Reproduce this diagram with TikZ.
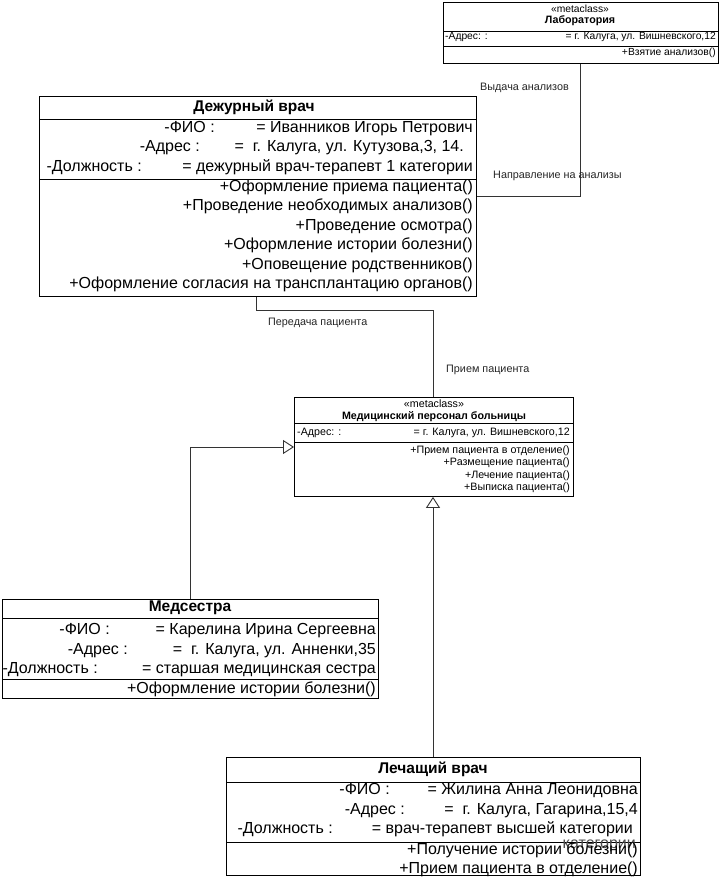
\documentclass[tikz,border=0pt]{standalone}
\usepackage{fontspec}
\setmainfont{Liberation Sans}
\usetikzlibrary{arrows.meta}
\tikzset{
  box/.style={draw=black, line width=0.9pt, inner sep=0pt, anchor=north west},
  sep/.style={draw=black, line width=0.9pt},
  conn/.style={draw=black!80, line width=0.9pt},
  gen/.style={conn, -{Triangle[open,length=11pt,width=14pt,line width=0.9pt]}},
  big/.style={inner sep=0pt, font=\fontsize{16}{18}\selectfont},
  bigb/.style={inner sep=0pt, font=\fontsize{15.5}{18}\selectfont\bfseries},
  sm/.style={inner sep=0pt, font=\fontsize{10.7}{12}\selectfont},
  lsm/.style={inner sep=0pt, font=\fontsize{10.3}{12}\selectfont},
  smb/.style={inner sep=0pt, font=\fontsize{10.7}{12}\selectfont\bfseries},
  lbl/.style={inner sep=0pt, font=\fontsize{10.8}{12}\selectfont, text=black!85},
}
\begin{document}
\begin{tikzpicture}[x=1pt,y=-1pt]
\useasboundingbox[fill=white] (0,0) rectangle (719,882);

% ---------- Laboratory ----------
\node[box, minimum width=275pt, minimum height=61pt] (lab) at (443,2) {};
\draw[sep] (lab.west |- 0,31) -- (lab.east |- 0,31);
\draw[sep] (lab.west |- 0,46) -- (lab.east |- 0,46);
\node[lsm] (labst) at (580,9) {«metaclass»};
\node[smb] (labt) at (580,21) {Лаборатория};
\node[lsm, anchor=mid west] (laba1) at (445,37) {-Адрес: :};
\node[lsm, anchor=mid east] (laba2) at (716,37) {= г. Калуга, ул. Вишневского,12};
\node[lsm, anchor=mid east] (labo1) at (716,53) {+Взятие анализов()};

% ---------- Дежурный врач ----------
\node[box, minimum width=437pt, minimum height=200pt] (dv) at (39,96) {};
\draw[sep] (dv.west |- 0,119) -- (dv.east |- 0,119);
\draw[sep] (dv.west |- 0,179) -- (dv.east |- 0,179);
\node[bigb] (dvt) at (254,107) {Дежурный врач};
\node[big, anchor=mid east] (dva1) at (215,130) {-ФИО :};
\node[big, anchor=mid east] (dva1v) at (473,130) {= Иванников Игорь Петрович};
\node[big, anchor=mid east] (dva2) at (200,149) {-Адрес :};
\node[big, anchor=mid east] (dva2v) at (464,149) {=\ \ г. Калуга, ул. Кутузова,3, 14.};
\node[big, anchor=mid east] (dva3) at (142,169) {-Должность :};
\node[big, anchor=mid east] (dva3v) at (473,169) {= дежурный врач-терапевт 1 категории};
\node[big, anchor=mid east] (dvo1) at (473,189) {+Оформление приема пациента()};
\node[big, anchor=mid east] (dvo2) at (473,208) {+Проведение необходимых анализов()};
\node[big, anchor=mid east] (dvo3) at (473,228) {+Проведение осмотра()};
\node[big, anchor=mid east] (dvo4) at (473,247) {+Оформление истории болезни()};
\node[big, anchor=mid east] (dvo5) at (473,267) {+Оповещение родственников()};
\node[big, anchor=mid east] (dvo6) at (473,286) {+Оформление согласия на трансплантацию органов()};

% ---------- Медицинский персонал больницы ----------
\node[box, minimum width=279pt, minimum height=99pt] (med) at (294,397) {};
\draw[sep] (med.west |- 0,423) -- (med.east |- 0,423);
\draw[sep] (med.west |- 0,442) -- (med.east |- 0,442);
\node[sm] (medst) at (434,404) {«metaclass»};
\node[smb] (medt) at (434,417) {Медицинский персонал больницы};
\node[sm, anchor=mid west] (meda1) at (297,433) {-Адрес: :};
\node[sm, anchor=mid east] (meda1v) at (570,433) {= г. Калуга, ул. Вишневского,12};
\node[sm, anchor=mid east] (medo1) at (570,451) {+Прием пациента в отделение()};
\node[sm, anchor=mid east] (medo2) at (570,463) {+Размещение пациента()};
\node[sm, anchor=mid east] (medo3) at (570,476) {+Лечение пациента()};
\node[sm, anchor=mid east] (medo4) at (570,488) {+Выписка пациента()};

% ---------- Медсестра ----------
\node[box, minimum width=376pt, minimum height=99pt] (ms) at (2,599) {};
\draw[sep] (ms.west |- 0,618) -- (ms.east |- 0,618);
\draw[sep] (ms.west |- 0,679) -- (ms.east |- 0,679);
\node[bigb] (mst) at (190,608) {Медсестра};
\node[big, anchor=mid east] (msa1) at (110,632) {-ФИО :};
\node[big, anchor=mid east] (msa1v) at (376,632) {= Карелина Ирина Сергеевна};
\node[big, anchor=mid east] (msa2) at (128,652) {-Адрес :};
\node[big, anchor=mid east] (msa2v) at (376,652) {=\ \ г. Калуга, ул. Анненки,35};
\node[big, anchor=mid east] (msa3) at (98,671) {-Должность :};
\node[big, anchor=mid east] (msa3v) at (376,671) {= старшая медицинская сестра};
\node[big, anchor=mid east] (mso1) at (376,691) {+Оформление истории болезни()};

% ---------- Лечащий врач ----------
\node[box, minimum width=414pt, minimum height=118pt] (lv) at (226,757) {};
\draw[sep] (lv.west |- 0,782) -- (lv.east |- 0,782);
\draw[sep] (lv.west |- 0,842) -- (lv.east |- 0,842);
\node[bigb] (lvt) at (433,769) {Лечащий врач};
\node[big, anchor=mid east] (lva1) at (390,792) {-ФИО :};
\node[big, anchor=mid east] (lva1v) at (638,792) {= Жилина Анна Леонидовна};
\node[big, anchor=mid east] (lva2) at (405,812) {-Адрес :};
\node[big, anchor=mid east] (lva2v) at (638,812) {=\ \ г. Калуга, Гагарина,15,4};
\node[big, anchor=mid east] (lva3) at (333,831) {-Должность :};
\node[big, anchor=mid east] (lva3v) at (633,831) {= врач-терапевт высшей категории};
\node[big, anchor=mid east, text=black!70] (lvx) at (636,846) {категории};
\node[big, anchor=mid east] (lvo1) at (638,852) {+Получение истории болезни()};
\node[big, anchor=mid east] (lvo2) at (638,871) {+Прием пациента в отделение()};

% ---------- connectors ----------
\coordinate (kLab) at (580,0);
\coordinate (kDv) at (0,196);
\draw[conn] (lab.south -| kLab) |- (dv.east |- kDv);
\node[lbl, anchor=mid west] (l1) at (480,88) {Выдача анализов};
\node[lbl, anchor=mid west] (l2) at (493,176) {Направление на анализы};

\coordinate (kA) at (256,0);
\coordinate (kB) at (433,310);
\draw[conn] (dv.south -| kA) |- (kB) -- (med.north -| kB);
\node[lbl, anchor=mid west] (l3) at (268,323) {Передача пациента};
\node[lbl, anchor=mid west] (l4) at (446,370) {Прием пациента};

\coordinate (kC) at (190,0);
\coordinate (kD) at (0,447);
\draw[gen] (ms.north -| kC) |- (med.west |- kD);

\coordinate (kE) at (433,0);
\draw[gen] (lv.north -| kE) -- (med.south -| kE);
\end{tikzpicture}
\end{document}
